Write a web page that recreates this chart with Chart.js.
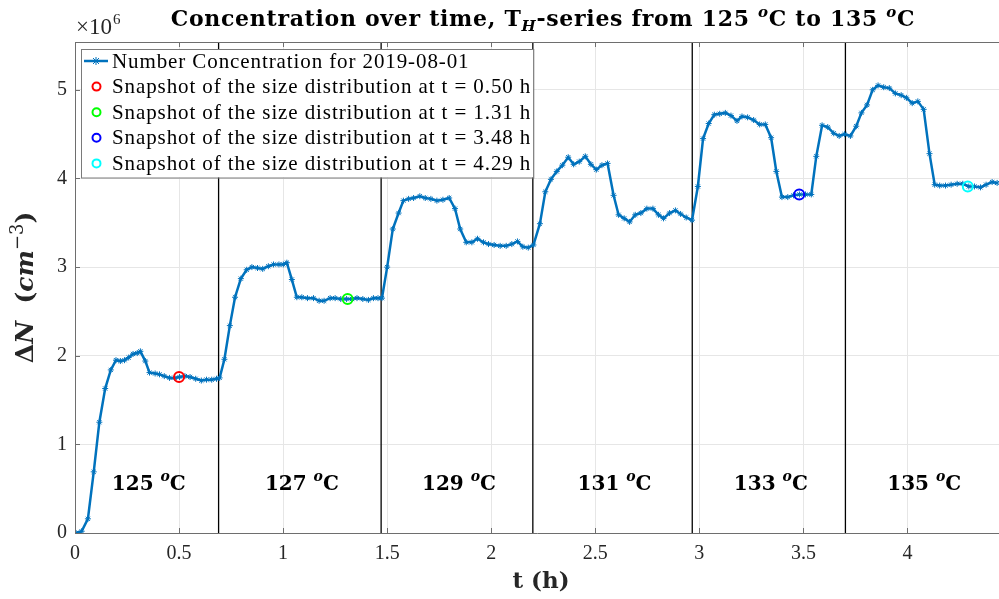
<!DOCTYPE html>
<html>
<head>
<meta charset="utf-8">
<title>Concentration over time</title>
<script src="https://cdn.jsdelivr.net/npm/chart.js@4.4.1/dist/chart.umd.min.js"></script>
<style>
  html, body { margin: 0; padding: 0; background: #ffffff; }
  #wrap { width: 999px; height: 599px; position: relative; }
</style>
</head>
<body>
<div id="wrap"><canvas id="chart" width="999" height="599"></canvas></div>
<script>
// Data (concentration in units of 10^6 cm^-3)
const times = [
  0.005, 0.032, 0.062, 0.090, 0.117, 0.145, 0.172, 0.197, 0.218, 0.238,
  0.258, 0.279, 0.299, 0.314, 0.338, 0.358, 0.385, 0.406, 0.429, 0.454,
  0.479, 0.502, 0.528, 0.553, 0.580, 0.607, 0.632, 0.657, 0.680, 0.695,
  0.718, 0.744, 0.769, 0.797, 0.825, 0.850, 0.877, 0.902, 0.929, 0.954,
  0.980, 1.001, 1.018, 1.042, 1.066, 1.090, 1.117, 1.146, 1.173, 1.197,
  1.226, 1.250, 1.277, 1.305, 1.331, 1.355, 1.383, 1.410, 1.434, 1.456,
  1.475, 1.500, 1.527, 1.555, 1.578, 1.603, 1.627, 1.657, 1.683, 1.710,
  1.739, 1.768, 1.798, 1.826, 1.851, 1.880, 1.907, 1.934, 1.963, 1.987,
  2.014, 2.043, 2.072, 2.099, 2.126, 2.152, 2.178, 2.203, 2.234, 2.260,
  2.287, 2.315, 2.342, 2.370, 2.396, 2.423, 2.452, 2.479, 2.505, 2.532,
  2.559, 2.588, 2.612, 2.639, 2.665, 2.692, 2.719, 2.748, 2.777, 2.804,
  2.828, 2.857, 2.885, 2.910, 2.937, 2.965, 2.993, 3.018, 3.045, 3.072,
  3.098, 3.125, 3.152, 3.181, 3.205, 3.232, 3.261, 3.290, 3.317, 3.345,
  3.370, 3.397, 3.425, 3.453, 3.481, 3.510, 3.538, 3.562, 3.590, 3.617,
  3.646, 3.672, 3.698, 3.726, 3.754, 3.779, 3.806, 3.833, 3.859, 3.886,
  3.913, 3.942, 3.970, 3.995, 4.023, 4.050, 4.078, 4.106, 4.131, 4.155,
  4.183, 4.210, 4.239, 4.266, 4.295, 4.322, 4.351, 4.378, 4.407, 4.431
];
const concentration = [
  0.00, 0.02, 0.16, 0.69, 1.25, 1.63, 1.84, 1.95, 1.94, 1.95,
  1.98, 2.02, 2.03, 2.05, 1.94, 1.81, 1.80, 1.79, 1.77, 1.75,
  1.75, 1.76, 1.77, 1.76, 1.74, 1.72, 1.73, 1.73, 1.74, 1.75,
  1.96, 2.34, 2.66, 2.87, 2.97, 3.00, 2.99, 2.98, 3.01, 3.03,
  3.03, 3.03, 3.05, 2.86, 2.66, 2.66, 2.65, 2.65, 2.62, 2.62,
  2.65, 2.65, 2.64, 2.64, 2.64, 2.65, 2.64, 2.63, 2.65, 2.65,
  2.65, 3.00, 3.43, 3.61, 3.75, 3.77, 3.78, 3.80, 3.78, 3.77,
  3.75, 3.76, 3.78, 3.66, 3.43, 3.28, 3.28, 3.32, 3.28, 3.26,
  3.25, 3.24, 3.24, 3.26, 3.29, 3.23, 3.22, 3.25, 3.49, 3.85,
  3.99, 4.08, 4.15, 4.24, 4.16, 4.19, 4.25, 4.16, 4.10, 4.15,
  4.17, 3.81, 3.59, 3.55, 3.51, 3.59, 3.61, 3.66, 3.66, 3.59,
  3.55, 3.61, 3.64, 3.60, 3.56, 3.53, 3.91, 4.45, 4.62, 4.72,
  4.73, 4.74, 4.71, 4.65, 4.70, 4.69, 4.66, 4.61, 4.61, 4.46,
  4.08, 3.79, 3.79, 3.81, 3.82, 3.82, 3.82, 4.25, 4.60, 4.58,
  4.51, 4.48, 4.50, 4.48, 4.59, 4.74, 4.83, 5.00, 5.05, 5.03,
  5.02, 4.96, 4.94, 4.91, 4.85, 4.87, 4.78, 4.28, 3.93, 3.92,
  3.92, 3.93, 3.94, 3.94, 3.91, 3.91, 3.90, 3.93, 3.96, 3.95
];
const measureDate = '2019-08-01';
const snapshotTimes = [0.50, 1.31, 3.48, 4.29];
const snapshotValues = [1.76, 2.64, 3.82, 3.91];
const snapshotColors = ['#ff0000', '#00ff00', '#0000ff', '#00ffff'];
const switchTimes = [0.690, 1.471, 2.200, 2.966, 3.702];
const seriesTemps = ['125', '127', '129', '131', '133', '135'];
const xTicks = [0, 0.5, 1, 1.5, 2, 2.5, 3, 3.5, 4];
const yTicks = [0, 1, 2, 3, 4, 5];
const xMax = 4.44;
const yMax = 5.54;

const LINE_BLUE = '#0072bd';
const TEXT = '#262626';
const SERIF = '"Liberation Serif", serif';
const SERIF_WIDE = '"DejaVu Serif", serif';

// rich text helpers (sub/superscripts, italics)
function partFont(p, size) {
  const s = (p.sup || p.sub) ? Math.round(size * 0.7) : size;
  return (p.i ? 'italic ' : '') + (p.b ? 'bold ' : '') + s + 'px ' + (p.f || SERIF_WIDE);
}
function richWidth(ctx, parts, size) {
  let w = 0;
  parts.forEach(p => { ctx.font = partFont(p, size); w += ctx.measureText(p.t).width; });
  return w;
}
function drawRich(ctx, parts, cx, y, size) {
  let x = cx - richWidth(ctx, parts, size) / 2;
  ctx.textAlign = 'left';
  ctx.textBaseline = 'alphabetic';
  parts.forEach(p => {
    ctx.font = partFont(p, size);
    const dy = p.sup ? -size * 0.42 : (p.sub ? size * 0.22 : 0);
    ctx.fillText(p.t, x, y + dy);
    x += ctx.measureText(p.t).width;
  });
}

// titles, temperature labels, legend, inward ticks
const decorPlugin = {
  id: 'decor',
  afterDatasetsDraw(chart) {
    const { ctx, chartArea: a, scales: { x, y } } = chart;
    ctx.save();

    // inward tick marks + top box line
    ctx.strokeStyle = '#6e6e6e';
    ctx.lineWidth = 1;
    ctx.beginPath();
    ctx.moveTo(a.left, a.top + 0.5);
    ctx.lineTo(a.right, a.top + 0.5);
    yTicks.forEach(v => {
      const py = Math.round(y.getPixelForValue(v)) + 0.5;
      ctx.moveTo(a.left, py); ctx.lineTo(a.left + 5, py);
    });
    xTicks.forEach(v => {
      const px = Math.round(x.getPixelForValue(v)) + 0.5;
      ctx.moveTo(px, a.bottom); ctx.lineTo(px, a.bottom - 5);
      ctx.moveTo(px, a.top); ctx.lineTo(px, a.top + 5);
    });
    ctx.stroke();

    // temperature labels, centred between switch times
    ctx.fillStyle = '#000';
    const bounds = [0, ...switchTimes, xMax];
    seriesTemps.forEach((temp, i) => {
      const mid = (bounds[i] + bounds[i + 1]) / 2;
      drawRich(ctx, [
        { t: temp + ' ', b: 1 },
        { t: 'o', b: 1, i: 1, sup: 1 },
        { t: 'C', b: 1 }
      ], x.getPixelForValue(mid) + 2, y.getPixelForValue(0.6) + 10, 20);
    });

    // legend
    const entries = ['Number Concentration for ' + measureDate]
      .concat(snapshotTimes.map(t => 'Snapshot of the size distribution at t = ' + t.toFixed(2) + ' h'));
    ctx.font = '21px ' + SERIF;
    ctx.letterSpacing = '0.9px';
    const textW = Math.max(...entries.map(e => ctx.measureText(e).width));
    const lx = a.left + 6, ly = a.top + 7, rowH = 25.6;
    const bw = 31 + textW + 2, bh = rowH * entries.length + 0.5;
    ctx.fillStyle = '#fff';
    ctx.fillRect(lx, ly, bw, bh);
    ctx.strokeStyle = '#7a7a7a';
    ctx.lineWidth = 1;
    ctx.strokeRect(lx + 0.5, ly + 0.5, bw, bh);
    entries.forEach((e, i) => {
      const cy = ly + 12 + i * rowH;
      if (i === 0) {
        ctx.strokeStyle = LINE_BLUE;
        ctx.lineWidth = 2.5;
        ctx.beginPath(); ctx.moveTo(lx + 3, cy); ctx.lineTo(lx + 27, cy); ctx.stroke();
        ctx.lineWidth = 1;
        ctx.beginPath();
        ctx.moveTo(lx + 12, cy - 3); ctx.lineTo(lx + 18, cy + 3);
        ctx.moveTo(lx + 12, cy + 3); ctx.lineTo(lx + 18, cy - 3);
        ctx.moveTo(lx + 15, cy - 4); ctx.lineTo(lx + 15, cy + 4);
        ctx.stroke();
      } else {
        ctx.strokeStyle = snapshotColors[i - 1];
        ctx.lineWidth = 2;
        ctx.beginPath(); ctx.arc(lx + 15.5, cy, 4, 0, Math.PI * 2); ctx.stroke();
      }
      ctx.fillStyle = '#000';
      ctx.font = '21px ' + SERIF;
      ctx.textAlign = 'left';
      ctx.textBaseline = 'middle';
      ctx.fillText(e, lx + 31, cy + 1);
    });
    ctx.letterSpacing = '0px';

    // title
    ctx.fillStyle = '#000';
    ctx.letterSpacing = '0.7px';
    drawRich(ctx, [
      { t: 'Concentration over time, T', b: 1 },
      { t: 'H', b: 1, i: 1, sub: 1 },
      { t: '-series from 125 ', b: 1 },
      { t: 'o', b: 1, i: 1, sup: 1 },
      { t: 'C to 135 ', b: 1 },
      { t: 'o', b: 1, i: 1, sup: 1 },
      { t: 'C', b: 1 }
    ], (a.left + a.right) / 2 + 6, 26, 22);
    ctx.letterSpacing = '0px';

    // exponent marker
    ctx.fillStyle = TEXT;
    ctx.textAlign = 'left';
    ctx.textBaseline = 'alphabetic';
    ctx.font = '23px ' + SERIF;
    ctx.fillText('\u00d710', 76, 34);
    const w10 = ctx.measureText('\u00d710').width;
    ctx.font = '15px ' + SERIF;
    ctx.fillText('6', 76 + w10 + 1, 24);

    // x axis title
    ctx.fillStyle = TEXT;
    drawRich(ctx, [{ t: 't (h)', b: 1 }], (a.left + a.right) / 2 + 4, 588, 23);

    // y axis title
    ctx.translate(33, (a.top + a.bottom) / 2);
    ctx.rotate(-Math.PI / 2);
    drawRich(ctx, [
      { t: '\u0394', b: 1 },
      { t: 'N', b: 1, i: 1 },
      { t: '  (', b: 1 },
      { t: 'cm', b: 1, i: 1 },
      { t: '\u22123', sup: 1 },
      { t: ')', b: 1 }
    ], 0, 0, 25);
    ctx.restore();
  }
};

const datasets = [{
  label: 'Number Concentration for ' + measureDate,
  data: times.map((t, i) => ({ x: t, y: concentration[i] })),
  borderColor: LINE_BLUE,
  backgroundColor: LINE_BLUE,
  borderWidth: 2.5,
  pointStyle: 'star',
  pointRadius: 3,
  pointBorderWidth: 1,
  tension: 0,
  order: 2
}];

snapshotTimes.forEach((t, i) => {
  datasets.push({
    label: 'Snapshot ' + t.toFixed(2),
    data: [{ x: t, y: snapshotValues[i] }],
    showLine: false,
    pointStyle: 'circle',
    pointRadius: 5,
    pointBorderWidth: 2,
    borderColor: snapshotColors[i],
    backgroundColor: 'rgba(0,0,0,0)',
    order: 1
  });
});

switchTimes.forEach(t => {
  datasets.push({
    label: 'switch ' + t,
    data: [{ x: t, y: 0 }, { x: t, y: yMax }],
    borderColor: '#000',
    borderWidth: 1.3,
    pointRadius: 0,
    order: 3
  });
});

new Chart(document.getElementById('chart').getContext('2d'), {
  type: 'line',
  data: { datasets },
  options: {
    responsive: false,
    animation: false,
    layout: { autoPadding: false, padding: { top: 42, right: 0, left: 0, bottom: 0 } },
    plugins: {
      legend: { display: false },
      tooltip: { enabled: false }
    },
    scales: {
      x: {
        type: 'linear',
        min: 0,
        max: xMax,
        afterBuildTicks: axis => { axis.ticks = xTicks.map(v => ({ value: v })); },
        afterFit: axis => { axis.height = 66; axis.paddingRight = 0; },
        grid: { color: '#e6e6e6', drawTicks: false },
        border: { color: '#6e6e6e', width: 1 },
        ticks: {
          padding: 9,
          color: TEXT,
          font: { family: SERIF, size: 20 },
          maxRotation: 0,
          callback: v => String(v)
        }
      },
      y: {
        type: 'linear',
        min: 0,
        max: yMax,
        afterBuildTicks: axis => { axis.ticks = yTicks.map(v => ({ value: v })); },
        afterFit: axis => { axis.width = 75; },
        grid: { color: '#e6e6e6', drawTicks: false },
        border: { color: '#6e6e6e', width: 1 },
        ticks: {
          padding: 8,
          color: TEXT,
          font: { family: SERIF, size: 20 },
          callback: v => String(v)
        }
      }
    }
  },
  plugins: [decorPlugin]
});
</script>
</body>
</html>
